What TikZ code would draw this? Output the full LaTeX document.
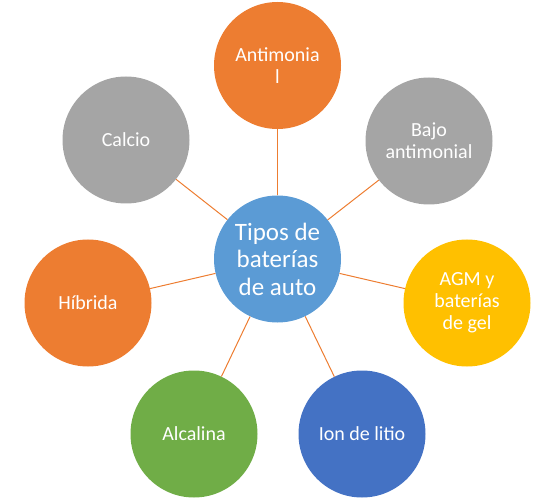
\documentclass[tikz,border=0pt]{standalone}
\usepackage{fontspec}
\setmainfont{Carlito}
\definecolor{corange}{HTML}{ED7D31}
\definecolor{cgray}{HTML}{A5A5A5}
\definecolor{cyellow}{HTML}{FFC000}
\definecolor{cblue}{HTML}{4472C4}
\definecolor{cgreen}{HTML}{70AD47}
\definecolor{clight}{HTML}{5B9BD5}
\begin{document}
\begin{tikzpicture}[x=1pt,y=-1pt,
  bub/.style={circle,minimum size=127pt,inner sep=0pt,text=white,align=center,
    font=\fontsize{20}{22}\selectfont},
  hub/.style={bub,fill=clight,font=\fontsize{25}{27.5}\selectfont},
  link/.style={draw=corange,line width=1pt}]
\useasboundingbox (0,0) rectangle (555,500);
\node[hub] (c) at (277.5,259) {Tipos de\\baterías\\de auto};
\node[bub,fill=corange] (a1) at (277.5,65.5) {Antimonia\\l};
\node[bub,fill=cgray] (a2) at (429,141) {Bajo\\antimonial};
\node[bub,fill=cyellow] (a3) at (467,303) {AGM y\\baterías\\de gel};
\node[bub,fill=cblue] (a4) at (362,434) {Ion de litio};
\node[bub,fill=cgreen] (a5) at (194,434) {Alcalina};
\node[bub,fill=corange] (a6) at (88,303) {Híbrida};
\node[bub,fill=cgray] (a7) at (126,140) {Calcio};
\foreach \n in {a1,a2,a3,a4,a5,a6,a7} \draw[link] (c) -- (\n);
\end{tikzpicture}
\end{document}
